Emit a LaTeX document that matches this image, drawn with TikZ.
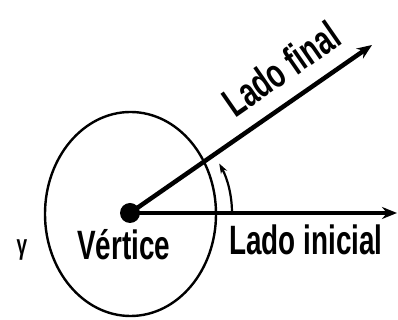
\documentclass[tikz,border=0pt]{standalone}
\usepackage{fontspec}
\setmainfont{Liberation Sans}
\newfontfamily\narrowsf[FakeStretch=0.68]{Liberation Sans}
\usetikzlibrary{arrows.meta}

\begin{document}
\begin{tikzpicture}[x=1pt,y=1pt,>={Stealth[length=15pt,width=12pt]},
  lbl/.style={inner sep=0pt,font=\narrowsf\bfseries\fontsize{41}{42}\selectfont}]
\useasboundingbox (0,0) rectangle (398,320);
\coordinate (V) at (130,107);
\coordinate (Ti) at (397,107);
\coordinate (Tf) at (372,275);
\draw[line width=2.4pt] (130.5,106) ellipse[x radius=85.5,y radius=102];
\node[circle,fill,inner sep=0pt,minimum size=20pt] (vert) at (V) {};
\draw[->,line width=4.5pt] (V) -- (Tf) node[pos=0.7,sloped,above=15pt,lbl] (lf) {Lado final};
\draw[->,line width=4.5pt] (V) -- (Ti);
\draw[->,line width=2.2pt,>={Stealth[length=10pt,width=7pt]}] ([shift={(0:102)}]V) arc[start angle=0,end angle=29,radius=102];
\node[lbl,anchor=base west] (vt) at (77,60) {Vértice};
\node[lbl,anchor=base west] (li) at (229,65) {Lado inicial};
\node[font=\narrowsf\bfseries\fontsize{28}{28}\selectfont,inner sep=0pt] (gam) at (22,70) {γ};
\end{tikzpicture}
\end{document}
